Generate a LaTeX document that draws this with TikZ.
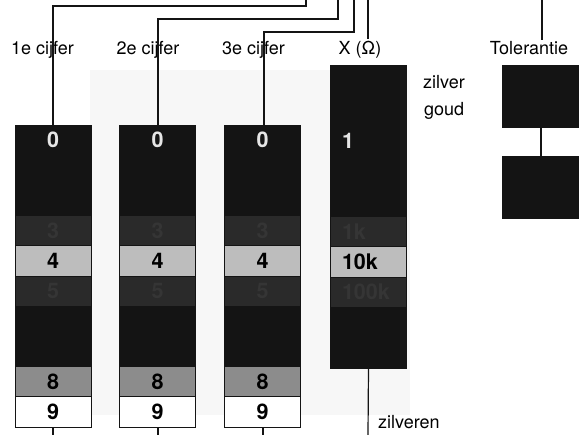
\documentclass[tikz,border=0pt]{standalone}
\usepackage{fontspec}
\setmainfont{TeX Gyre Heros}
\usetikzlibrary{backgrounds, positioning}
\definecolor{chartblack}{HTML}{141414}
\definecolor{chartdim}{HTML}{2A2A2A}
\definecolor{chartdimtext}{HTML}{353535}
\definecolor{chartlight}{HTML}{BDBDBD}
\definecolor{chartmid}{HTML}{8C8C8C}
\definecolor{chartwhite}{HTML}{E6E6E6}
\definecolor{chartpaper}{HTML}{F7F7F7}
\newcommand{\ChartLabelFont}{\fontsize{18}{20}\selectfont}
\newcommand{\ChartDigitFont}{\fontsize{21.5}{23}\selectfont\bfseries}
\tikzset{
  chart band/.style={
    draw=chartblack,
    line width=0.8pt,
    inner sep=0pt,
    minimum width=76pt,
    minimum height=30.2pt,
    font=\ChartDigitFont
  },
  chart mult band/.style={chart band, minimum height=30.3pt, text width=53pt, align=left},
  band zero/.style={fill=chartblack, text=chartwhite},
  band black/.style={fill=chartblack, text=chartblack},
  band dim/.style={fill=chartdim, text=chartdimtext},
  band light/.style={fill=chartlight, text=black},
  band mid/.style={fill=chartmid, text=black},
  band white/.style={fill=white, text=black},
  chart tol box/.style={
    draw=chartblack,
    fill=chartblack,
    minimum width=76pt,
    minimum height=62pt,
    inner sep=0pt
  },
  chart lead/.style={draw=chartblack, line width=1.2pt},
  chart label/.style={font=\ChartLabelFont, anchor=base, inner sep=0pt},
  chart side label/.style={font=\ChartLabelFont, anchor=base west, inner sep=0pt}
}

\begin{document}
\begin{tikzpicture}[x=1pt,y=-1pt]
\useasboundingbox (0,0) rectangle (579,435);

\foreach \c/\x in {1/53,2/157.5,3/262.5}{
  \foreach \d/\look/\txt in {0/zero/0,1/black/{},2/black/{},3/dim/3,4/light/4,
                             5/dim/5,6/black/{},7/black/{},8/mid/8,9/white/9}{
    \node[chart band, band \look] (c\c d\d) at (\x,{140.1+30.2*\d}) {\txt};
  }
}
\foreach \d/\look/\txt in {0/black/{},1/black/{},2/zero/1,3/black/{},4/black/{},
                           5/dim/1k,6/light/10k,7/dim/100k,8/black/{},9/black/{}}{
  \node[chart mult band, band \look] (c4d\d) at (368.5,{80.15+30.3*\d}) {\txt};
}

\node[chart tol box] (tol1) at (540,96) {};
\node[chart tol box] (tol2) at (540,187) {};

\node[chart label] (lab1) at (42.5,55) {1e cijfer};
\node[chart label] (lab2) at (148,55) {2e cijfer};
\node[chart label] (lab3) at (253.5,55) {3e cijfer};
\node[chart label] (labx) at (360,55) {X (Ω)};
\node[chart label] (labtol) at (529,55) {Tolerantie};
\node[chart side label] (zilver) at (423,89) {zilver};
\node[chart side label] (goud) at (424,116) {goud};
\node[chart side label] (zilveren) at (378,429) {zilveren};

\coordinate (lead1) at (306,0);
\coordinate (lead2) at (338,0);
\coordinate (lead3) at (354,0);
\coordinate (leadx) at (368,0);
\coordinate (leadtol) at (542,0);
\coordinate (foot1) at (53,435);
\coordinate (foot2) at (158,435);
\coordinate (foot3) at (263,435);
\coordinate (footx) at (368,435);

\draw[chart lead] (c1d0.north) |- ([yshift=-6pt]lead1) -- (lead1);
\draw[chart lead] ([xshift=0.5pt]c2d0.north) |- ([yshift=-19pt]lead2) -- (lead2);
\draw[chart lead] ([xshift=1.5pt]c3d0.north) |- ([yshift=-32pt]lead3) -- (lead3);
\draw[chart lead] (leadx) -- ([yshift=2pt]labx.north -| leadx);
\draw[chart lead] (leadtol) -- ([yshift=2pt]labtol.north -| leadtol);
\draw[chart lead] ([xshift=1pt]tol1.south) -- ([xshift=1pt]tol2.north);
\draw[chart lead] (c1d9.south) -- (foot1);
\draw[chart lead] ([xshift=0.5pt]c2d9.south) -- (foot2);
\draw[chart lead] ([xshift=0.5pt]c3d9.south) -- (foot3);
\draw[chart lead] (c4d9.south) -- (footx);

\begin{scope}[on background layer]
  \fill[chartpaper] (90,70) rectangle (410,415);
\end{scope}
\end{tikzpicture}
\end{document}
